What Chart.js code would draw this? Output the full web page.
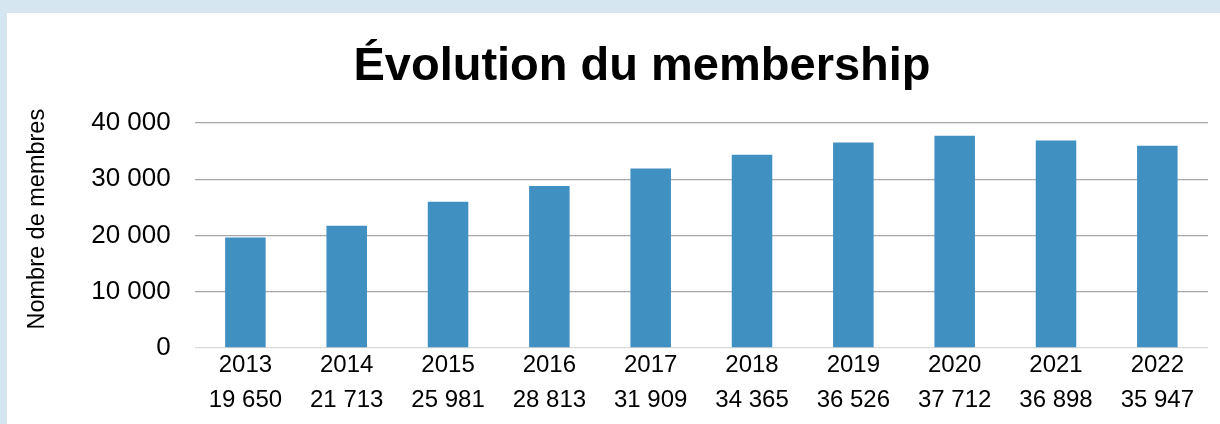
<!DOCTYPE html>
<html>
<head>
<meta charset="utf-8">
<script src="https://cdn.jsdelivr.net/npm/chart.js@4/dist/chart.umd.min.js"></script>
<style>
  html, body { margin: 0; padding: 0; background: #d6e6f1; overflow: hidden; }
  #box { position: absolute; left: 7px; top: 13px; width: 1213px; height: 411px; background: #ffffff; }
</style>
</head>
<body>
<div id="box"><canvas id="c"></canvas></div>
<script>
// données
const years = ['2013', '2014', '2015', '2016', '2017', '2018', '2019', '2020', '2021', '2022']
const members = [19650, 21713, 25981, 28813, 31909, 34365, 36526, 37712, 36898, 35947]
const yTicks = [0, 10000, 20000, 30000, 40000]

const FONT = '"Liberation Sans", Arial, sans-serif'

// 40000 -> "40 000"
function fmt(n) {
  return String(n).replace(/\B(?=(\d{3})+(?!\d))/g, ' ')
}

const labels = years.map((y, i) => [y, fmt(members[i])])

// titre dessiné à la main pour le placer comme dans Excel
const titlePlugin = {
  id: 'bigTitle',
  afterDraw(chart) {
    const ctx = chart.ctx
    ctx.save()
    ctx.font = 'bold 47px ' + FONT
    ctx.fillStyle = '#000000'
    ctx.textAlign = 'center'
    ctx.textBaseline = 'alphabetic'
    ctx.fillText('Évolution du membership', 635, 67)
    ctx.restore()
  }
}

new Chart(document.getElementById('c'), {
  type: 'bar',
  data: {
    labels: labels,
    datasets: [{
      data: members,
      backgroundColor: '#4190c2',
      barPercentage: 0.4,
      categoryPercentage: 1
    }]
  },
  options: {
    responsive: true,
    maintainAspectRatio: false,
    animation: false,
    layout: { padding: { left: 4, top: 110, right: 12, bottom: 6 } },
    plugins: {
      legend: { display: false },
      tooltip: { enabled: false }
    },
    scales: {
      x: {
        grid: { display: false, drawTicks: false },
        border: { display: false },
        ticks: {
          color: '#000000',
          padding: 0,
          maxRotation: 0,
          font: { family: FONT, size: 24, lineHeight: 35 / 24 }
        }
      },
      y: {
        min: 0,
        max: 40000,
        afterBuildTicks(scale) {
          scale.ticks = yTicks.map(v => ({ value: v }))
        },
        grid: {
          drawTicks: false,
          lineWidth: 1.3,
          color: ctx => ctx.tick && ctx.tick.value === 0 ? '#d9d9d9' : '#a6a6a6'
        },
        border: { display: false },
        ticks: {
          color: '#000000',
          padding: 24,
          font: { family: FONT, size: 26 },
          callback: v => fmt(v)
        },
        title: {
          display: true,
          text: '     Nombre de membres',
          color: '#000000',
          padding: { top: 12, bottom: 16 },
          font: { family: FONT, size: 23.5 }
        }
      }
    }
  },
  plugins: [titlePlugin]
})
</script>
</body>
</html>
